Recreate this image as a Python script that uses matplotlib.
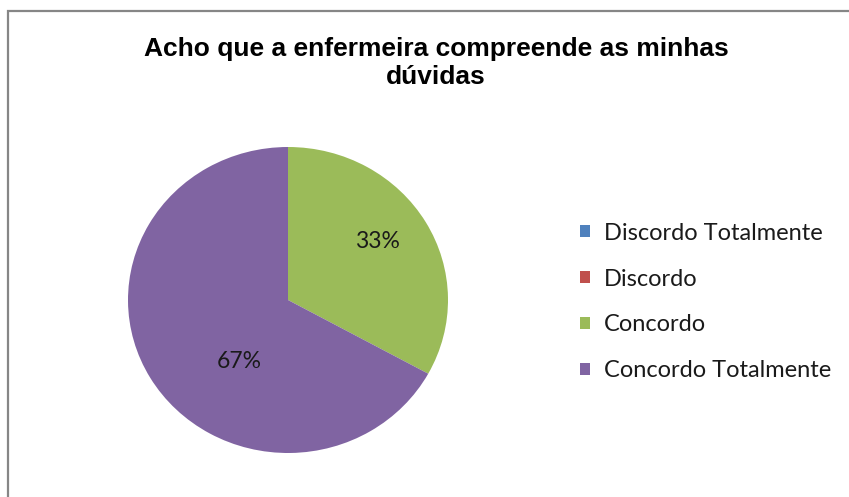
import matplotlib
matplotlib.use("Agg")
import matplotlib.pyplot as plt
from matplotlib.patches import Rectangle, Patch

categories = ["Discordo Totalmente", "Discordo", "Concordo", "Concordo Totalmente"]
values = [0, 0, 33, 67]
colors = ["#4F81BD", "#C0504D", "#9BBB59", "#8064A2"]
title = "Acho que a enfermeira compreende as minhas\ndúvidas"

W, H = 849, 497
fig = plt.figure(figsize=(W / 100, H / 100), dpi=100)
fig.patch.set_facecolor("white")

# chart-area frame (only top and left edges fall inside the canvas)
fig.add_artist(Rectangle((7.5 / W, -0.1), 1.2, (H - 11) / H + 0.1,
                         transform=fig.transFigure, fill=False,
                         edgecolor="#868686", linewidth=1.6))

cx, cy, rx, ry = 288, 300, 160, 153
ax = fig.add_axes([(cx - rx) / W, (H - cy - ry) / H, 2 * rx / W, 2 * ry / H])
wedges, _ = ax.pie(values, colors=colors, startangle=90, counterclock=False,
                   wedgeprops=dict(linewidth=0))
ax.set_xlim(-1, 1)
ax.set_ylim(-1, 1)
ax.set_aspect("auto")
ax.axis("off")

# percentage labels
total = sum(values)
label_pos = {2: (0.556, 0.38), 3: (-0.306, -0.40)}
for i, v in enumerate(values):
    if v == 0:
        continue
    x, y = label_pos[i]
    ax.text(x, y, f"{round(100 * v / total)}%", ha="center", va="center",
            fontsize=16.5, family="Lato", color="#1a1a1a")

fig.text(436 / W, 1 - 63 / H, title, ha="center", va="center",
         fontsize=19, fontweight="bold", family="Liberation Sans",
         linespacing=1.2)

handles = [Patch(facecolor=c, edgecolor="none") for c in colors]
leg = fig.legend(handles, categories, loc="center left",
                 bbox_to_anchor=(580 / W, 1 - 302 / H), frameon=False,
                 borderpad=0, borderaxespad=0,
                 prop=dict(family="Lato", size=17),
                 handlelength=0.42, handleheight=0.42, handletextpad=0.6,
                 labelspacing=1.05)
for t in leg.get_texts():
    t.set_color("#1a1a1a")

fig.savefig("out.png", dpi=100)
